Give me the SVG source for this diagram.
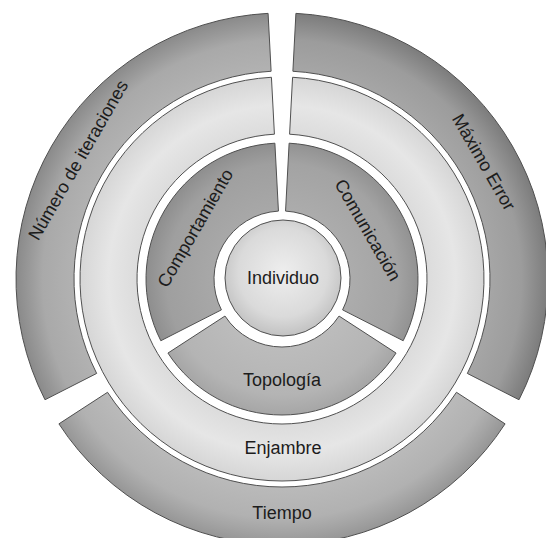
<svg xmlns="http://www.w3.org/2000/svg" width="546" height="538" viewBox="0 0 546 538">
  <style>
    .seg { stroke: #505050; stroke-width: 1; }
    .lbl { font-family: "Liberation Sans", Arial, sans-serif; font-size: 18px; fill: #1c1c1c; text-anchor: middle; }
  </style>
  <defs>
    <radialGradient id="gNum" gradientUnits="userSpaceOnUse" cx="282" cy="279" r="266">
      <stop offset="0.78" stop-color="#b2b2b2"/>
      <stop offset="0.90" stop-color="#a9a9a9"/>
      <stop offset="0.95" stop-color="#999999"/>
      <stop offset="1" stop-color="#8a8a8a"/>
    </radialGradient>
    <radialGradient id="gMax" gradientUnits="userSpaceOnUse" cx="282" cy="279" r="266">
      <stop offset="0.78" stop-color="#a6a6a6"/>
      <stop offset="0.90" stop-color="#9c9c9c"/>
      <stop offset="0.95" stop-color="#8c8c8c"/>
      <stop offset="1" stop-color="#7c7c7c"/>
    </radialGradient>
    <radialGradient id="gTie" gradientUnits="userSpaceOnUse" cx="282" cy="279" r="266">
      <stop offset="0.78" stop-color="#bababa"/>
      <stop offset="0.90" stop-color="#b1b1b1"/>
      <stop offset="0.95" stop-color="#a4a4a4"/>
      <stop offset="1" stop-color="#969696"/>
    </radialGradient>
    <radialGradient id="gEnj" gradientUnits="userSpaceOnUse" cx="282" cy="279" r="202">
      <stop offset="0.72" stop-color="#dcdcdc"/>
      <stop offset="0.86" stop-color="#e6e6e6"/>
      <stop offset="1" stop-color="#d6d6d6"/>
    </radialGradient>
    <radialGradient id="gCom" gradientUnits="userSpaceOnUse" cx="282" cy="279" r="136">
      <stop offset="0.5" stop-color="#a8a8a8"/>
      <stop offset="0.85" stop-color="#9f9f9f"/>
      <stop offset="1" stop-color="#8e8e8e"/>
    </radialGradient>
    <radialGradient id="gCmu" gradientUnits="userSpaceOnUse" cx="282" cy="279" r="136">
      <stop offset="0.5" stop-color="#acacac"/>
      <stop offset="0.85" stop-color="#a3a3a3"/>
      <stop offset="1" stop-color="#929292"/>
    </radialGradient>
    <radialGradient id="gTop" gradientUnits="userSpaceOnUse" cx="282" cy="279" r="136">
      <stop offset="0.5" stop-color="#bcbcbc"/>
      <stop offset="0.85" stop-color="#b4b4b4"/>
      <stop offset="1" stop-color="#a6a6a6"/>
    </radialGradient>
    <radialGradient id="gInd" cx="0.5" cy="0.45" r="0.55">
      <stop offset="0" stop-color="#eeeeee"/>
      <stop offset="0.7" stop-color="#dadada"/>
      <stop offset="1" stop-color="#c2c2c2"/>
    </radialGradient>
  </defs>

  <rect x="0" y="0" width="546" height="538" fill="#ffffff"/>

  <g id="numero-iteraciones">
    <path class="seg" fill="url(#gNum)" d="M 44.99 399.76 A 266 266 0 0 1 268.08 13.36 L 271.11 71.28 A 208 208 0 0 0 96.67 373.43 Z"/>
    <text class="lbl" transform="translate(78,160) rotate(-60)" dy="0.35em">Número de iteraciones</text>
  </g>

  <g id="maximo-error">
    <path class="seg" fill="url(#gMax)" d="M 295.92 13.36 A 266 266 0 0 1 519.01 399.76 L 467.33 373.43 A 208 208 0 0 0 292.89 71.28 Z"/>
    <text class="lbl" transform="translate(484,162) rotate(60)" dy="0.35em">Máximo Error</text>
  </g>

  <g id="tiempo">
    <path class="seg" fill="url(#gTie)" d="M 505.09 423.87 A 266 266 0 0 1 58.91 423.87 L 107.56 392.29 A 208 208 0 0 0 456.44 392.29 Z"/>
    <text class="lbl" x="282" y="519">Tiempo</text>
  </g>

  <g id="enjambre">
    <path class="seg" fill="url(#gEnj)" d="M 292.57 77.28 A 202 202 0 1 1 271.43 77.28 L 274.41 134.20 A 145 145 0 1 0 289.59 134.20 Z"/>
    <text class="lbl" x="283" y="454">Enjambre</text>
  </g>

  <g id="comportamiento">
    <path class="seg" fill="url(#gCom)" d="M 160.82 340.74 A 136 136 0 0 1 274.88 143.19 L 278.44 211.09 A 68 68 0 0 0 221.41 309.87 Z"/>
    <text class="lbl" transform="translate(195,228) rotate(-60)" dy="0.35em">Comportamiento</text>
  </g>

  <g id="comunicacion">
    <path class="seg" fill="url(#gCmu)" d="M 289.12 143.19 A 136 136 0 0 1 403.18 340.74 L 342.59 309.87 A 68 68 0 0 0 285.56 211.09 Z"/>
    <text class="lbl" transform="translate(368,230) rotate(60)" dy="0.35em">Comunicación</text>
  </g>

  <g id="topologia">
    <path class="seg" fill="url(#gTop)" d="M 396.06 353.07 A 136 136 0 0 1 167.94 353.07 L 224.97 316.04 A 68 68 0 0 0 339.03 316.04 Z"/>
    <text class="lbl" x="282" y="386">Topología</text>
  </g>

  <g id="individuo">
    <circle class="seg" cx="283" cy="278" r="58" fill="url(#gInd)"/>
    <text class="lbl" x="283" y="284">Individuo</text>
  </g>
</svg>
